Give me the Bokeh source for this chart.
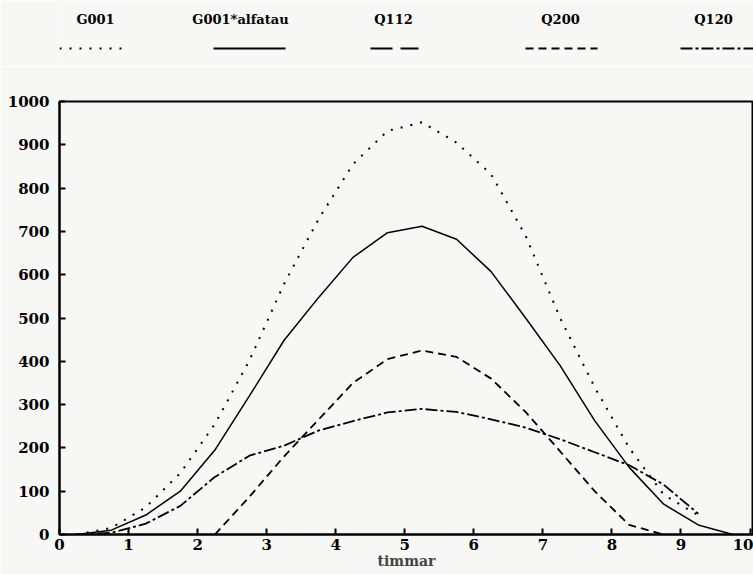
from bokeh.plotting import figure
from bokeh.layouts import column
from bokeh.models import Range1d, Label, FixedTicker
from bokeh.core.properties import value
from bokeh.embed import file_html
from bokeh.resources import INLINE

# ---- data ----
hours = [0.25, 0.75, 1.25, 1.75, 2.25, 2.75, 3.25, 3.75, 4.25, 4.75,
         5.25, 5.75, 6.25, 6.75, 7.25, 7.75, 8.25, 8.75, 9.25, 9.75]
g001 = [0, 15, 63, 142, 255, 402, 578, 728, 855, 932,
        952, 905, 832, 690, 500, 340, 200, 92, 44]
g001_alfatau = [0, 10, 45, 100, 195, 320, 448, 547, 640, 697,
                712, 682, 607, 500, 390, 263, 155, 70, 22, 0]
q200_hours = [2.25, 2.75, 3.25, 3.75, 4.25, 4.75, 5.25, 5.75, 6.25, 6.75,
              7.25, 7.75, 8.25, 8.75]
q200 = [0, 87, 180, 265, 350, 405, 425, 410, 360, 283, 192, 100, 22, 0]
q120 = [0, 4, 25, 66, 133, 182, 205, 240, 262, 282,
        290, 283, 266, 247, 220, 190, 160, 115, 48]

legend_names = ["G001", "G001*alfatau", "Q112", "Q200", "Q120"]
x_ticks = [0, 1, 2, 3, 4, 5, 6, 7, 8, 9, 10]
y_ticks = [0, 100, 200, 300, 400, 500, 600, 700, 800, 900, 1000]

# ---- styles ----
FONT = value("DejaVu Serif")
BG = "#f7f7f5"
dashes = ["2 8", "solid", "22 8", "8 5", "12 3 3 3"]
leg_label_x = [95, 240, 393, 560, 713]
leg_line_x = [(59, 127), (213, 285), (370, 418), (525, 597), (680, 753)]

# ---- legend strip (its frame is aligned with the main frame, 59..753 px) ----
leg = figure(width=753, height=66, x_range=Range1d(59, 753), y_range=Range1d(66, 0),
             x_axis_type=None, y_axis_type=None,
             output_backend="svg", toolbar_location=None,
             min_border_left=59, min_border_right=0, min_border_top=0, min_border_bottom=0)
leg.grid.visible = False
leg.outline_line_color = None
leg.background_fill_color = BG
leg.border_fill_color = BG
for name, lx, (x0, x1), d in zip(legend_names, leg_label_x, leg_line_x, dashes):
    leg.text(x=[lx], y=[19], text=[name], text_align="center", text_baseline="middle",
             text_font=FONT, text_font_style="bold", text_font_size="13px", text_color="black")
    leg.line(x=[x0, x1], y=[48, 48], line_dash=d, line_width=2, line_color="black")

# ---- main plot ----
p = figure(width=753, height=508, x_range=Range1d(0, 10.05), y_range=Range1d(0, 1000),
           output_backend="svg", toolbar_location=None,
           min_border_left=59, min_border_right=0, min_border_top=35, min_border_bottom=40)
p.grid.visible = False
p.background_fill_color = BG
p.border_fill_color = BG
p.outline_line_color = "black"
p.outline_line_width = 2

p.line(hours[:len(g001)], g001, line_dash=dashes[0], line_width=2, line_color="black")
p.line(hours, g001_alfatau, line_dash=dashes[1], line_width=1.5, line_color="black")
p.line(q200_hours, q200, line_dash=dashes[3], line_width=1.8, line_color="black")
p.line(hours[:len(q120)], q120, line_dash=dashes[4], line_width=1.8, line_color="black")

for ax in (p.xaxis[0], p.yaxis[0]):
    ax.axis_line_width = 2
    ax.major_tick_line_width = 2
    ax.major_tick_in = 6
    ax.major_tick_out = 0
    ax.minor_tick_line_color = None
    ax.major_label_text_font = "DejaVu Serif"
    ax.major_label_text_font_style = "bold"
    ax.major_label_text_font_size = "15px"
    ax.major_label_text_color = "black"

p.xaxis.ticker = FixedTicker(ticks=x_ticks)
p.yaxis.ticker = FixedTicker(ticks=y_ticks)
p.xaxis.major_label_standoff = 4
p.yaxis.major_label_standoff = 10
p.xaxis.axis_label = "timmar"
p.xaxis.axis_label_standoff = 0
p.xaxis.axis_label_text_font = "DejaVu Serif"
p.xaxis.axis_label_text_font_style = "bold"
p.xaxis.axis_label_text_font_size = "14px"

p.add_layout(Label(x=0, y=1000, x_offset=3, y_offset=23, text="W/m²",
                   text_baseline="middle", text_font="DejaVu Serif", text_font_style="bold",
                   text_font_size="14px", text_color="black"))

layout = column(leg, p, spacing=0)
open("out.html", "w").write(file_html(layout, INLINE))
